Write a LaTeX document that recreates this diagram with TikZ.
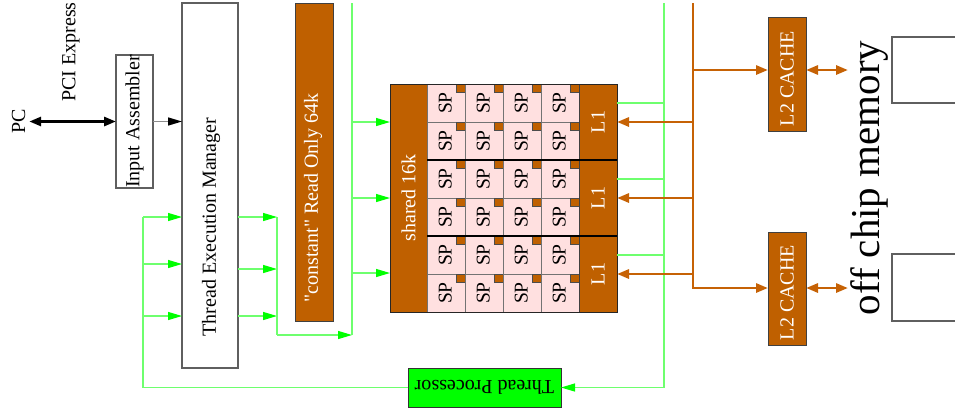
\documentclass[tikz,border=0pt]{standalone}
\usepackage{fontspec}
\setmainfont{Liberation Serif}
\usepackage{graphicx}
\usetikzlibrary{arrows.meta}
\definecolor{rust}{RGB}{191,96,0}
\definecolor{rustline}{RGB}{198,98,5}
\definecolor{spink}{RGB}{255,224,224}
\definecolor{gfill}{RGB}{0,255,0}
\definecolor{gline}{RGB}{110,255,110}
\definecolor{bord}{RGB}{95,95,95}
\tikzset{
  every node/.style={inner sep=0pt, outer sep=0pt, font=\fontsize{20}{24}\selectfont},
  whitebox/.style={draw=bord, line width=1.2pt, fill=white},
  rustbox/.style={draw=black!75, line width=1pt, fill=rust, text=white},
  spcell/.style={draw=black!55, line width=0.8pt, fill=spink, minimum width=38pt, minimum height=38pt, font=\fontsize{19.5}{22}\selectfont},
  tickbox/.style={draw=black!70, line width=0.6pt, fill=rust, minimum width=9pt, minimum height=8pt},
  tpbox/.style={draw=black!80, line width=1pt, fill=gfill},
  gwire/.style={draw=gline, line width=1.2pt},
  gthin/.style={draw=gline, line width=1.2pt},
  garrow/.style={gwire, -{Triangle[length=14pt,width=8pt,color=gfill]}},
  grayarrow/.style={draw=black!45, line width=1.5pt, -{Triangle[length=14pt,width=8pt,color=black]}},
  blkdbl/.style={draw=black, line width=2.8pt, {Triangle[length=12pt,width=9pt]}-{Triangle[length=12pt,width=9pt]}},
  owire/.style={draw=rustline, line width=2.8pt},
  oarrow/.style={owire, -{Triangle[length=12pt,width=9pt]}},
  odbl/.style={owire, {Triangle[length=12pt,width=9pt]}-{Triangle[length=12pt,width=9pt]}},
  sepline/.style={draw=black, line width=2.5pt},
}
\begin{document}
\begin{tikzpicture}[x=1pt,y=-1pt]
\clip (0,0) rectangle (955,416);
% left part
\node (pc) at (18.5,121.5) {\rotatebox{90}{PC}};
\node (pci) at (71,52) {\rotatebox{90}{PCI Express}};
\node[whitebox, minimum width=37pt, minimum height=133pt] (ia) at (134.5,121.5) {\rotatebox{90}{Input Assembler}};
\node[whitebox, minimum width=56pt, minimum height=365pt] (tem) at (210,185.5) {};
\node (temtext) at (211,227) {\rotatebox{90}{Thread Execution Manager}};
\draw[blkdbl] ([xshift=4pt]pc.east) -- (ia.west);
\draw[grayarrow] (ia.east) -- (ia.east -| tem.west);
% constant memory
\node[rustbox, minimum width=38pt, minimum height=318pt] (const) at (314,162) {};
\node[text=white] (consttext) at (313,198) {\rotatebox{90}{\textquotedbl constant\textquotedbl{} Read Only 64k}};
% shared + SP grid + L1
\node[rustbox, minimum width=37pt, minimum height=228pt] (sh) at (408.5,198) {\rotatebox{90}{shared 16k}};
\foreach \r in {1,...,6} \foreach \c in {1,...,4} {
  \node[spcell] (sp-\r-\c) at ({427+38*\c-19},{84+38*\r-19}) {\rotatebox{90}{\raisebox{1.5pt}{SP}}};
  \node[tickbox, anchor=north east] (tk-\r-\c) at (sp-\r-\c.north east) {};
}
\node[rustbox, minimum width=38pt, minimum height=76pt] (l1a) at (598,122) {\rotatebox{90}{L1}};
\node[rustbox, minimum width=38pt, minimum height=76pt] (l1b) at (598,198) {\rotatebox{90}{L1}};
\node[rustbox, minimum width=38pt, minimum height=76pt] (l1c) at (598,274) {\rotatebox{90}{L1}};
\draw[sepline] (l1a.south east) -- (l1a.south east -| sh.east);
\draw[sepline] (l1b.south east) -- (l1b.south east -| sh.east);
\draw[draw=black!85, line width=1pt] (sh.north west) rectangle (l1c.south east);
% thread processor
\node[tpbox, minimum width=153pt, minimum height=39pt] (tp) at (484.5,387.5) {\rotatebox{180}{Thread Processor}};
% L2 caches and memory
\node[rustbox, minimum width=38pt, minimum height=114pt] (l2a) at (787,74) {\rotatebox{90}{L2 CACHE\hspace{9pt}}};
\node[rustbox, minimum width=38pt, minimum height=113pt] (l2b) at (787,288.5) {\rotatebox{90}{L2 CACHE\hspace{8pt}}};
\node (ocm) at (869,178) {\fontsize{41}{44}\selectfont\rotatebox{90}{off chip memory}};
\node[whitebox, minimum width=100pt, minimum height=66pt] (mem1) at (942,70) {};
\node[whitebox, minimum width=100pt, minimum height=67pt] (mem2) at (942,287.5) {};
% green wiring
\coordinate (gtop) at (664,3);
\coordinate (gbot) at (664,387.5);
\coordinate (gl) at (143,387.5);
\coordinate (ga) at (277,217);
\coordinate (gb) at (277,335);
\coordinate (gc) at (352,3);
\coordinate (gd) at (352,335);
\draw[garrow] (gtop) -- (gbot) -- (tp.east);
\draw[gwire] (tp.west) -- (gl) -- (gl |- 0,217);
\foreach \yy in {217,264,316} {
  \draw[garrow] (gl |- 0,\yy) -- (tem.west |- 0,\yy);
}
\foreach \yy in {217,269,316} {
  \draw[garrow] (tem.east |- 0,\yy) -- (ga |- 0,\yy);
}
\draw[gwire] (ga) -- (gb);
\draw[garrow] (gb) -- (gd);
\draw[gwire] (gc) -- (gd);
\foreach \yy in {122,198,273} {
  \draw[garrow] (gc |- 0,\yy) -- (sh.west |- 0,\yy);
}
\draw[gthin] ([yshift=19pt]l1a.east) -- ([yshift=19pt]l1a.east -| gtop);
\draw[gthin] ([yshift=19pt]l1b.east) -- ([yshift=19pt]l1b.east -| gtop);
\draw[gthin] ([yshift=19pt]l1c.east) -- ([yshift=19pt]l1c.east -| gtop);
% orange wiring
\coordinate (otop) at (693,3);
\coordinate (obot) at (693,288);
\coordinate (oa) at (693,70);
\coordinate (m1) at (848,70);
\coordinate (m2) at (848,288);
\draw[oarrow] (otop) -- (obot) -- (obot -| l2b.west);
\draw[oarrow] (oa) -- (oa -| l2a.west);
\draw[oarrow] (otop |- l1a.east) -- (l1a.east);
\draw[oarrow] (otop |- l1b.east) -- (l1b.east);
\draw[oarrow] (otop |- l1c.east) -- (l1c.east);
\draw[odbl] (m1 -| l2a.east) -- (m1);
\draw[odbl] (m2 -| l2b.east) -- (m2);
\end{tikzpicture}
\end{document}
